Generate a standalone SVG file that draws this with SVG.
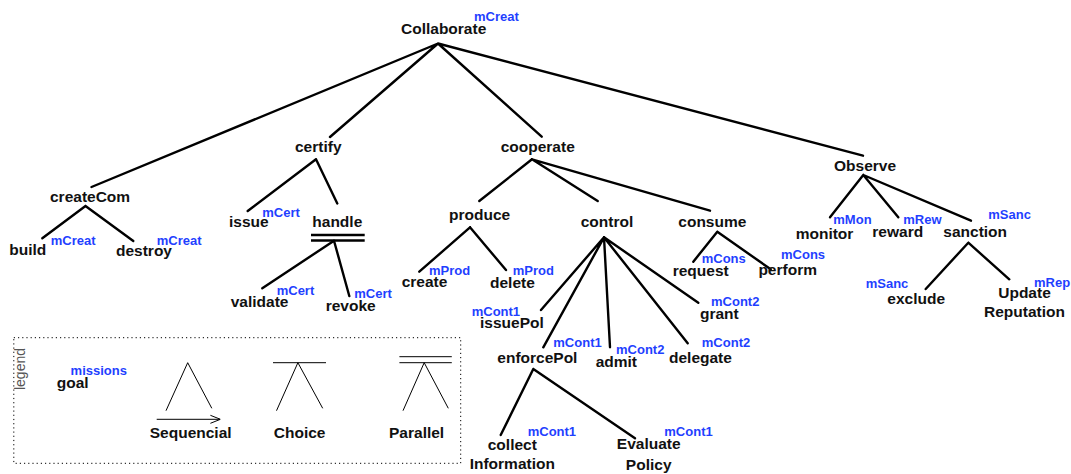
<svg xmlns="http://www.w3.org/2000/svg" width="1071" height="474" viewBox="0 0 1071 474">
<style>
.g{font-family:"Liberation Sans",Arial,sans-serif;font-weight:bold;font-size:15.5px;fill:#111}
.m{font-family:"Liberation Sans",Arial,sans-serif;font-weight:bold;font-size:13px;fill:#1f3fff}
.c{text-anchor:middle}
.e{stroke:#000;stroke-width:2.4;fill:none;stroke-linecap:round}
.l{stroke:#000;stroke-width:1;fill:none}
</style>
<defs>
<marker id="arr" viewBox="0 0 10 10" refX="10" refY="5" markerWidth="10" markerHeight="10" markerUnits="userSpaceOnUse" orient="auto">
<path d="M0,1 L10,5 L0,9" fill="none" stroke="#000" stroke-width="1"/>
</marker>
</defs>
<g id="connectors" class="e">
<path d="M438,43.5 L91.5,187 M438,43.5 L330,137 M438,43.5 L541.7,136.7 M438,43.5 L863,155.7"/>
<path d="M85.5,206 L42.3,238.3 M85.5,206 L133.3,241"/>
<path d="M316,159.3 L247.7,211 M316,159.3 L337.3,203.5"/>
<path d="M311,235 L364.7,235 M311,240.5 L364.7,240.5" stroke-linecap="butt"/>
<path d="M334,240.7 L262.3,288.3 M334,240.7 L349.3,296"/>
<path d="M532,159.3 L479.3,201 M532,159.3 L597.7,201 M532,159.3 L710,210.7"/>
<path d="M470,227.3 L419.3,271.7 M470,227.3 L506,270"/>
<path d="M604,237.3 L541,310 M604,237.3 L543.3,347.3 M604,237.3 L610,347.3 M604,237.3 L687.7,343.3 M604,237.3 L698.3,302.7"/>
<path d="M717.3,231.7 L693.3,261.7 M717.3,231.7 L770.7,269.3"/>
<path d="M863.3,175 L830,217.3 M863.3,175 L898.3,217.3 M863.3,175 L971,220.7"/>
<path d="M968.3,242.7 L925.7,289 M968.3,242.7 L1009.3,279.3"/>
<path d="M533.3,369 L500.7,435 M533.3,369 L635,438.3"/>
</g>
<g id="n-collaborate"><text class="g" x="401" y="33.5">Collaborate</text><text class="m" x="474" y="21">mCreat</text></g>
<g id="n-createCom"><text class="g" x="50" y="201.7">createCom</text></g>
<g id="n-build"><text class="g" x="9.3" y="255">build</text><text class="m" x="50.7" y="245">mCreat</text></g>
<g id="n-destroy"><text class="g" x="116" y="256">destroy</text><text class="m" x="156.7" y="245">mCreat</text></g>
<g id="n-certify"><text class="g" x="295" y="151.7">certify</text></g>
<g id="n-issue"><text class="g" x="229" y="226.7">issue</text><text class="m" x="262.3" y="216.7">mCert</text></g>
<g id="n-handle"><text class="g" x="312.3" y="226.7">handle</text></g>
<g id="n-validate"><text class="g" x="230.7" y="306.7">validate</text><text class="m" x="276.7" y="295">mCert</text></g>
<g id="n-revoke"><text class="g" x="325.7" y="310.7">revoke</text><text class="m" x="354.3" y="297.7">mCert</text></g>
<g id="n-cooperate"><text class="g" x="500.7" y="151.7">cooperate</text></g>
<g id="n-produce"><text class="g" x="449" y="220">produce</text></g>
<g id="n-create"><text class="g" x="401.7" y="286.7">create</text><text class="m" x="429" y="275">mProd</text></g>
<g id="n-delete"><text class="g" x="490" y="288.3">delete</text><text class="m" x="512.7" y="275">mProd</text></g>
<g id="n-control"><text class="g" x="580.7" y="226.7">control</text></g>
<g id="n-issuePol"><text class="g" x="480" y="328.3">issuePol</text><text class="m" x="471.7" y="316">mCont1</text></g>
<g id="n-enforcePol"><text class="g" x="497.3" y="363.3">enforcePol</text><text class="m" x="553.3" y="346.7">mCont1</text></g>
<g id="n-admit"><text class="g" x="595.7" y="366.7">admit</text><text class="m" x="616" y="354">mCont2</text></g>
<g id="n-delegate"><text class="g" x="669" y="362.7">delegate</text><text class="m" x="701.8" y="347.3">mCont2</text></g>
<g id="n-grant"><text class="g" x="700" y="319.3">grant</text><text class="m" x="711" y="306">mCont2</text></g>
<g id="n-collect"><text class="g c" x="512.3" y="450">collect</text><text class="g c" x="512.3" y="469.3">Information</text><text class="m" x="527.7" y="435.7">mCont1</text></g>
<g id="n-evaluate"><text class="g c" x="648.7" y="449.3">Evaluate</text><text class="g c" x="648.7" y="470">Policy</text><text class="m" x="664.3" y="435.7">mCont1</text></g>
<g id="n-consume"><text class="g" x="678.3" y="226.7">consume</text></g>
<g id="n-request"><text class="g" x="672.7" y="276">request</text><text class="m" x="701.7" y="262.7">mCons</text></g>
<g id="n-perform"><text class="g" x="758.4" y="275">perform</text><text class="m" x="781" y="259.3">mCons</text></g>
<g id="n-observe"><text class="g" x="834" y="170.7">Observe</text></g>
<g id="n-monitor"><text class="g" x="795.7" y="239.3">monitor</text><text class="m" x="833.3" y="224">mMon</text></g>
<g id="n-reward"><text class="g" x="872.3" y="237.3">reward</text><text class="m" x="903.3" y="224">mRew</text></g>
<g id="n-sanction"><text class="g" x="943.3" y="237.3">sanction</text><text class="m" x="988.3" y="219.3">mSanc</text></g>
<g id="n-exclude"><text class="g" x="887.3" y="304">exclude</text><text class="m" x="865.7" y="288.3">mSanc</text></g>
<g id="n-update"><text class="g c" x="1024.5" y="298.3">Update</text><text class="g c" x="1024.5" y="317.3">Reputation</text><text class="m" x="1034" y="286.7">mRep</text></g>
<g id="legend">
<rect x="13.8" y="337.7" width="446.9" height="125.6" fill="none" stroke="#000" stroke-width="1" stroke-dasharray="1.2 3"/>
<text x="24.5" y="369" transform="rotate(-90 24.5 369)" text-anchor="middle" font-family="Liberation Sans, Arial, sans-serif" font-size="14" fill="#555">legend</text>
<text class="m" x="70.6" y="375">missions</text>
<text class="g" x="56.8" y="388.3">goal</text>
<path class="l" d="M166,410.7 L187.7,362.7 L211.8,408.3"/>
<path class="l" d="M156.7,419.3 L220.4,419.3" marker-end="url(#arr)"/>
<text class="g c" x="190.7" y="438.3">Sequencial</text>
<path class="l" d="M273,362.7 L326,362.7 M276.5,410.7 L297.9,362.7 L322.7,408.3"/>
<text class="g c" x="299.6" y="438.3">Choice</text>
<path class="l" d="M399.4,356.7 L451.8,356.7 M399.4,362.7 L451.8,362.7 M403,410.7 L424.2,362.7 L448.3,408.3"/>
<text class="g c" x="416.6" y="438.3">Parallel</text>
</g>
</svg>
